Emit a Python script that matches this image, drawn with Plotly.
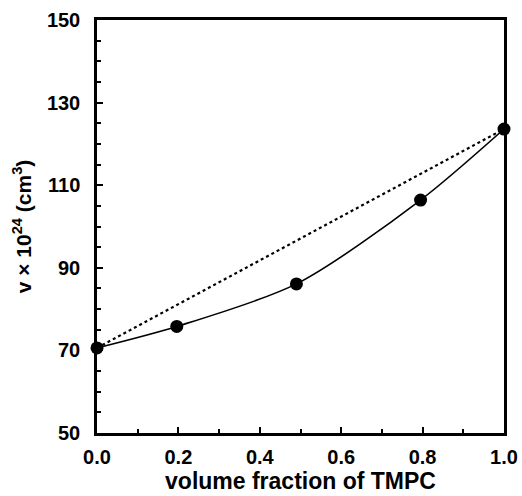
import plotly.graph_objects as go

x_frac = [0.0, 0.196, 0.49, 0.795, 1.0]
v_vals = [70.6, 75.8, 86.1, 106.4, 123.6]
ideal_x = [0.0, 1.0]
ideal_v = [70.6, 123.6]

fig = go.Figure()
fig.add_trace(go.Scatter(x=ideal_x, y=ideal_v, mode="lines",
                         line=dict(color="black", width=2.2, dash="dot"),
                         showlegend=False, cliponaxis=False))
fig.add_trace(go.Scatter(x=x_frac, y=v_vals, mode="lines",
                         line=dict(color="black", width=1.6, shape="spline", smoothing=0.8),
                         showlegend=False, cliponaxis=False))
fig.add_trace(go.Scatter(x=x_frac, y=v_vals, mode="markers",
                         marker=dict(color="black", size=13),
                         showlegend=False, cliponaxis=False))

font = "Liberation Sans, Arial, sans-serif"
axis_common = dict(showline=True, linecolor="black", linewidth=2.5, mirror=True,
                   ticks="inside", ticklen=6, tickwidth=2, tickcolor="black",
                   showgrid=False, zeroline=False, automargin=False,
                   tickfont=dict(family=font, size=20, color="black", weight="bold"))

fig.update_layout(
    template="none",
    width=522, height=496,
    margin=dict(l=97, r=18, t=20, b=63),
    plot_bgcolor="white", paper_bgcolor="white",
    xaxis=dict(range=[0, 1], tickvals=[0, 0.2, 0.4, 0.6, 0.8, 1.0],
               ticktext=["0.0", "0.2", "0.4", "0.6", "0.8", "1.0"],
               ticklabelstandoff=4,
               minor=dict(ticks="inside", ticklen=4, tickwidth=2, tickcolor="black", dtick=0.1),
               title=dict(text="<b>volume fraction of TMPC</b>", standoff=4,
                          font=dict(family=font, size=23, color="black")),
               **axis_common),
    yaxis=dict(range=[50, 150], tickvals=[50, 70, 90, 110, 130, 150],
               ticklabelstandoff=10,
               minor=dict(ticks="inside", ticklen=4, tickwidth=2, tickcolor="black", dtick=5),
               title=dict(text="<b>v × 10<sup>24</sup> (cm<sup>3</sup>)</b>", standoff=10,
                          font=dict(family=font, size=21, color="black")),
               **axis_common),
)

fig.write_html("out.html", config={"displayModeBar": False},
               post_script="document.body.style.margin='0px';")
